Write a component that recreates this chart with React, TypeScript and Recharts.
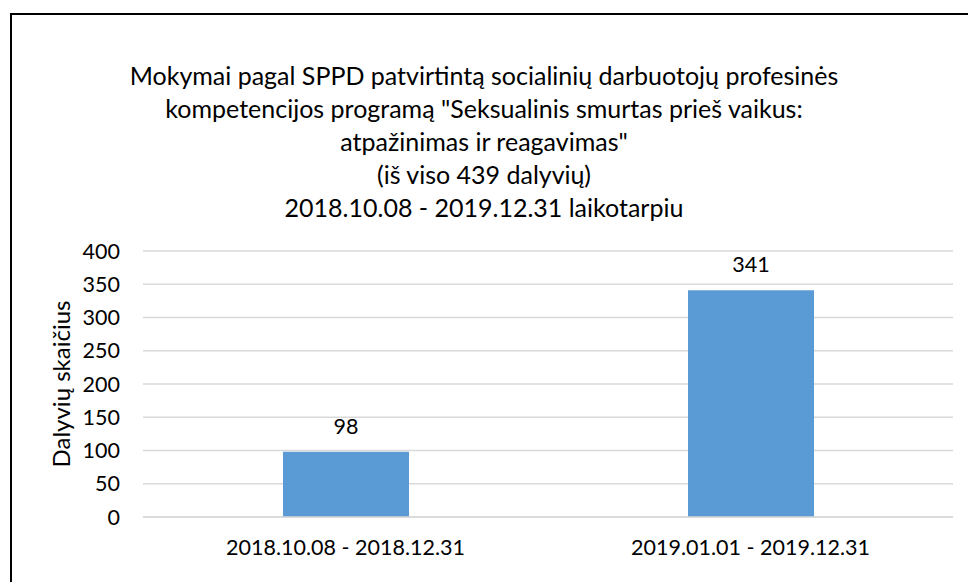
import { BarChart, Bar, XAxis, YAxis, CartesianGrid, LabelList, Label } from 'recharts';

const periods = ['2018.10.08 - 2018.12.31', '2019.01.01 - 2019.12.31'];
const participants = [98, 341];
const yTicks = [0, 50, 100, 150, 200, 250, 300, 350, 400];
const titleLines = [
    'Mokymai pagal SPPD patvirtintą socialinių darbuotojų profesinės',
    'kompetencijos programą "Seksualinis smurtas prieš vaikus:',
    'atpažinimas ir reagavimas"',
    '(iš viso 439 dalyvių)',
    '2018.10.08 - 2019.12.31 laikotarpiu',
];

const font = 'Lato, "Open Sans", sans-serif';

function App() {
    const data = periods.map((name, i) => ({ name, value: participants[i] }));

    return (
        <div style={{ position: 'fixed', left: 0, top: 0, width: 968, height: 582, overflow: 'hidden', background: '#fff', fontFamily: font }}>
            <div style={{ position: 'absolute', left: 10, top: 13, width: 1000, height: 700, border: '2px solid #000' }} />
            <div style={{ position: 'absolute', left: 0, top: 59, width: 968, textAlign: 'center', fontSize: 25, lineHeight: '33px', color: '#000' }}>
                {titleLines.map((t) => (
                    <div key={t}>{t}</div>
                ))}
            </div>
            <div style={{ position: 'absolute', left: 0, top: 0 }}>
                <BarChart width={968} height={582} data={data} margin={{ top: 251, right: 15, bottom: 25, left: 0 }}>
                    <CartesianGrid vertical={false} stroke="#d9d9d9" strokeWidth={1.5} />
                    <XAxis
                        dataKey="name"
                        height={40}
                        tickLine={false}
                        axisLine={{ stroke: '#d9d9d9', strokeWidth: 1.5 }}
                        tickSize={0}
                        tickMargin={23}
                        tick={{ fontSize: 21.5, fill: '#000', fontFamily: font }}
                    />
                    <YAxis
                        width={143}
                        domain={[0, 400]}
                        ticks={yTicks}
                        interval={0}
                        tickLine={false}
                        axisLine={false}
                        tickSize={0}
                        tickMargin={23}
                        tick={{ fontSize: 21.5, fill: '#000', fontFamily: font }}
                    >
                        <Label value="Dalyvių skaičius" angle={-90} position="center" dx={-10} style={{ fontSize: 24, fill: '#000', fontFamily: font }} />
                    </YAxis>
                    <Bar dataKey="value" fill="#5b9bd5" barSize={126} isAnimationActive={false}>
                        <LabelList dataKey="value" position="top" offset={18} style={{ fontSize: 21.5, fill: '#000', fontFamily: font }} />
                    </Bar>
                </BarChart>
            </div>
        </div>
    );
}

export default App;
